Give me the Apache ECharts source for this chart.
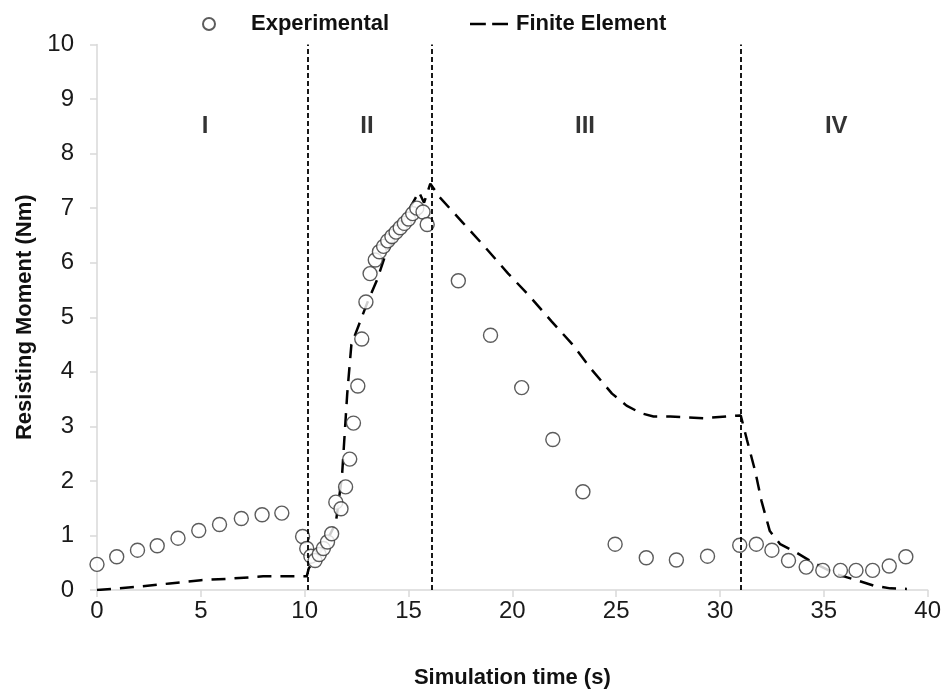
<!DOCTYPE html>
<html>
<head>
<meta charset="utf-8">
<script src="https://cdn.jsdelivr.net/npm/echarts@6/dist/echarts.min.js"></script>
<style>
  html, body { margin: 0; padding: 0; background: #fff; }
  #chart { width: 944px; height: 694px; }
</style>
</head>
<body>
<div id="chart"></div>
<script>
// experimental measurements (time s, moment Nm)
const expX = [0, 0.95, 1.95, 2.9, 3.9, 4.9, 5.9, 6.95, 7.95, 8.9,
  9.9, 10.1, 10.3, 10.5, 10.7, 10.9, 11.1, 11.3, 11.5, 11.75, 11.97, 12.17, 12.35, 12.56, 12.75,
  12.95, 13.15, 13.4, 13.6, 13.8, 14.0, 14.2, 14.4, 14.6, 14.8, 15.0, 15.2, 15.4, 15.7, 15.9,
  17.4, 18.95, 20.45, 21.95, 23.4, 24.95, 26.45, 27.9, 29.4,
  30.95, 31.75, 32.5, 33.3, 34.15, 34.95, 35.8, 36.55, 37.35, 38.15, 38.95];
const expY = [0.47, 0.61, 0.73, 0.81, 0.95, 1.09, 1.2, 1.31, 1.38, 1.41,
  0.98, 0.76, 0.62, 0.54, 0.65, 0.76, 0.88, 1.03, 1.61, 1.49, 1.89, 2.4, 3.06, 3.74, 4.6,
  5.28, 5.8, 6.05, 6.2, 6.3, 6.4, 6.48, 6.56, 6.64, 6.72, 6.8, 6.9, 7.0, 6.93, 6.7,
  5.67, 4.67, 3.71, 2.76, 1.8, 0.84, 0.59, 0.55, 0.62,
  0.82, 0.84, 0.73, 0.54, 0.42, 0.36, 0.36, 0.36, 0.36, 0.44, 0.61];

// finite element prediction
const feX = [0, 2, 3.5, 5, 6.5, 8, 10.1,
  10.2, 10.7, 11.2, 11.5, 11.8, 12.05, 12.25, 12.6, 13.0, 13.5, 13.85, 14.5, 15.0, 15.5, 15.75, 16.05,
  16.5, 17.6, 18.7, 19.8, 20.8, 21.9, 22.9, 23.8, 24.8, 25.5, 26.2, 26.8, 27.6, 29.2, 31.0,
  31.3, 31.7, 32.0, 32.4, 32.9, 33.7, 34.5, 35.6, 36.4, 37.4, 38.2, 39.0];
const feY = [0, 0.06, 0.12, 0.18, 0.21, 0.25, 0.25,
  0.4, 0.66, 1.0, 1.23, 2.1, 3.6, 4.5, 4.85, 5.25, 5.7, 6.1, 6.6, 6.95, 7.3, 7.1, 7.45,
  7.2, 6.74, 6.28, 5.8, 5.4, 4.92, 4.5, 4.05, 3.6, 3.38, 3.24, 3.18, 3.18, 3.15, 3.2,
  2.75, 2.17, 1.63, 1.08, 0.84, 0.68, 0.5, 0.29, 0.2, 0.08, 0.03, 0.02];

// phase boundaries and phase labels
const phaseBounds = [10.15, 16.1, 31.0];
const phaseNames = ['I', 'II', 'III', 'IV'];
const phaseX = [5.2, 13.0, 23.5, 35.6];
const phaseY = [8.5, 8.5, 8.5, 8.5];

const chart = echarts.init(document.getElementById('chart'));

const font = 'Liberation Sans';
const gray = '#d9d9d9';

chart.setOption({
  animation: false,
  backgroundColor: '#fff',
  textStyle: { fontFamily: font },
  grid: { left: 97, right: 16, top: 44.5, bottom: 101.5 },
  legend: [
    {
      data: ['Experimental'],
      left: 197, top: 8,
      itemWidth: 12, itemHeight: 12,
      textStyle: { fontFamily: font, fontWeight: 'bold', fontSize: 22, color: '#111', padding: [0, 0, 0, 31] }
    },
    {
      data: [{ name: 'Finite Element', icon: 'path://M0,0h15v2.5h-15z M21,0h15v2.5h-15z' }],
      left: 465, top: 8,
      itemWidth: 38, itemHeight: 14,
      textStyle: { fontFamily: font, fontWeight: 'bold', fontSize: 22, color: '#111', padding: [0, 0, 0, 3] }
    }
  ],
  xAxis: {
    type: 'value', min: 0, max: 40, interval: 5,
    name: 'Simulation time (s)', nameLocation: 'middle', nameGap: 77,
    nameTextStyle: { fontFamily: font, fontWeight: 'bold', fontSize: 22, color: '#111' },
    axisLine: { lineStyle: { color: gray, width: 1.5 } },
    axisTick: { show: true, length: 7, lineStyle: { color: gray, width: 1.5 } },
    axisLabel: { fontSize: 24, color: '#1a1a1a', margin: 9 },
    splitLine: { show: false }
  },
  yAxis: {
    type: 'value', min: 0, max: 10, interval: 1,
    name: 'Resisting Moment (Nm)', nameLocation: 'middle', nameGap: 60, nameRotate: 90,
    nameTextStyle: { fontFamily: font, fontWeight: 'bold', fontSize: 22, color: '#111' },
    axisLine: { show: true, lineStyle: { color: gray, width: 1.5 } },
    axisTick: { show: true, length: 7, lineStyle: { color: gray, width: 1.5 } },
    axisLabel: { fontSize: 24, color: '#1a1a1a', margin: 23 },
    splitLine: { show: false }
  },
  series: [
    {
      name: 'Finite Element',
      type: 'line',
      symbol: 'none',
      z: 2,
      data: feX.map((x, i) => [x, feY[i]]),
      lineStyle: { color: '#000', width: 2.5, type: [14, 9] },
      itemStyle: { color: '#000' },
      markLine: {
        silent: true,
        symbol: 'none',
        label: { show: false },
        lineStyle: { color: '#000', width: 1.8, type: [5, 3] },
        data: phaseBounds.map(v => ({ xAxis: v }))
      }
    },
    {
      name: 'Experimental',
      type: 'scatter',
      symbol: 'circle',
      symbolSize: 14,
      z: 3,
      data: expX.map((x, i) => [x, expY[i]]),
      itemStyle: { color: '#fff', borderColor: '#333', borderWidth: 1.4 }
    },
    {
      name: 'phases',
      type: 'scatter',
      symbolSize: 0,
      silent: true,
      data: phaseX.map((x, i) => [x, phaseY[i], phaseNames[i]]),
      label: {
        show: true, position: 'inside',
        formatter: p => p.data[2],
        fontFamily: font, fontWeight: 'bold', fontSize: 24, color: '#000'
      }
    }
  ]
});
</script>
</body>
</html>
